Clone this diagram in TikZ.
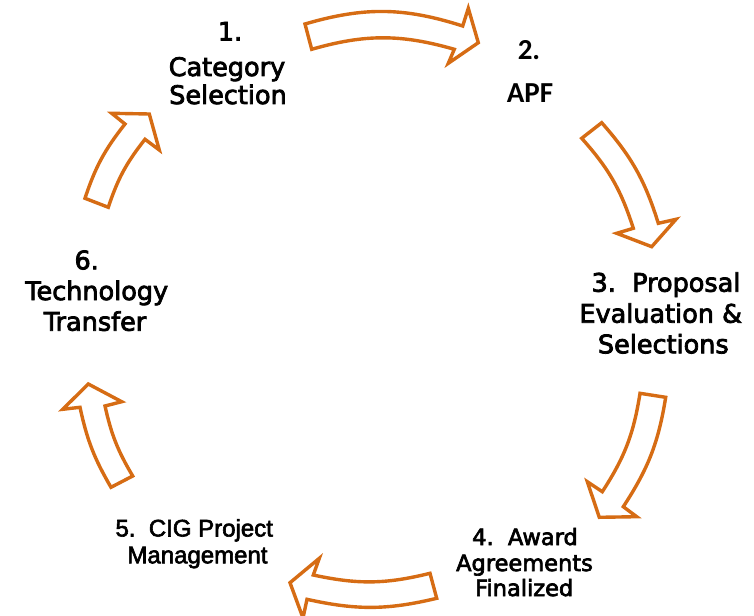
\documentclass[tikz,border=0pt]{standalone}
\usepackage{fontspec}
\newfontfamily\gfont{DejaVu Sans}[FakeBold=3]
\newfontfamily\afont{Liberation Sans}[FakeBold=2.5]
\newfontfamily\cfont{Carlito}
\definecolor{arr}{RGB}{214,108,20}
\begin{document}
\begin{tikzpicture}[x=1pt,y=1pt,
  band/.style={draw=arr, line width=3.4pt, fill=white, line join=miter},
  lbl/.style={anchor=base, inner sep=0pt, text=black},
  big/.style={lbl, font=\gfont\fontsize{25.5}{30}\selectfont},
  mid/.style={lbl, font=\gfont\fontsize{22.5}{26}\selectfont},
  ari/.style={lbl, font=\afont\fontsize{24}{27}\selectfont},
  cal/.style={lbl, font=\cfont\bfseries\fontsize{29}{32}\selectfont}]
\useasboundingbox (0,0) rectangle (754,-615);
\clip (0,0) rectangle (754,-615);

% arrow 1 -> 2 (top)
\draw[band] (311.7,-49.3) to[bend left=16] (454.3,-49.3) -- (448.3,-63.3) -- (478.3,-42.7)
  -- (468.3,-8.3) -- (462.7,-26) to[bend right=17] (305,-24) -- cycle;
% arrow 2 -> 3
\draw[band] (581.7,-138.3) to[bend left=12] (633.3,-228.3) -- (616.7,-233.3) -- (651.7,-246.7)
  -- (676,-219.3) -- (658.3,-223.3) to[bend right=12] (601.7,-122.7) -- cycle;
% arrow 3 -> 4
\draw[band] (640,-393.3) to[bend left=12] (602.3,-491.7) -- (587.3,-481.7) -- (599.3,-517.3)
  -- (636.7,-516.7) -- (623.3,-506.7) to[bend right=12] (665.7,-397.3) -- cycle;
% arrow 4 -> 5 (bottom)
\draw[band] (430,-573.3) to[bend left=13] (313.3,-575) -- (319.3,-558.3) -- (290,-582.7)
  -- (303,-618) -- (307,-599.3) to[bend right=13] (436.7,-598.3) -- cycle;
% arrow 5 -> 6
\draw[band] (132.7,-476) to[bend left=9] (105,-406) -- (121.7,-401.7) -- (88.3,-384)
  -- (62.7,-409.3) -- (80,-407.3) to[bend right=9] (111,-487.3) -- cycle;
% arrow 6 -> 1
\draw[band] (108.3,-207.3) to[bend left=10] (145,-139.3) -- (159.3,-150) -- (149.3,-114)
  -- (111.7,-113.3) -- (125,-124) to[bend right=10] (85,-198.3) -- cycle;

% labels
\node[big] (l1a) at (230,-40.5) {1.};
\node[big] (l1b) at (227,-76) {Category};
\node[big] (l1c) at (228,-104) {Selection};

\node[cal] (l2a) at (529,-60) {2.};
\node[cal] (l2b) at (530,-102.7) {APF};

\node[big] (l3a) at (666,-291.7) {3.\ \ Proposal};
\node[big] (l3b) at (660.7,-322.7) {Evaluation \&};
\node[big] (l3c) at (663.3,-353.3) {Selections};

\node[mid] (l4a) at (525,-545) {4.\ \ Award};
\node[mid] (l4b) at (524.5,-571) {Agreements};
\node[mid] (l4c) at (524.2,-596) {Finalized};

\node[ari] (l5a) at (194.2,-536.5) {5.\ \ CIG Project};
\node[ari] (l5b) at (197.5,-563.3) {Management};

\node[big] (l6a) at (86.7,-269.3) {6.};
\node[big] (l6b) at (96.7,-300) {Technology};
\node[big] (l6c) at (95,-330.7) {Transfer};
\end{tikzpicture}
\end{document}
